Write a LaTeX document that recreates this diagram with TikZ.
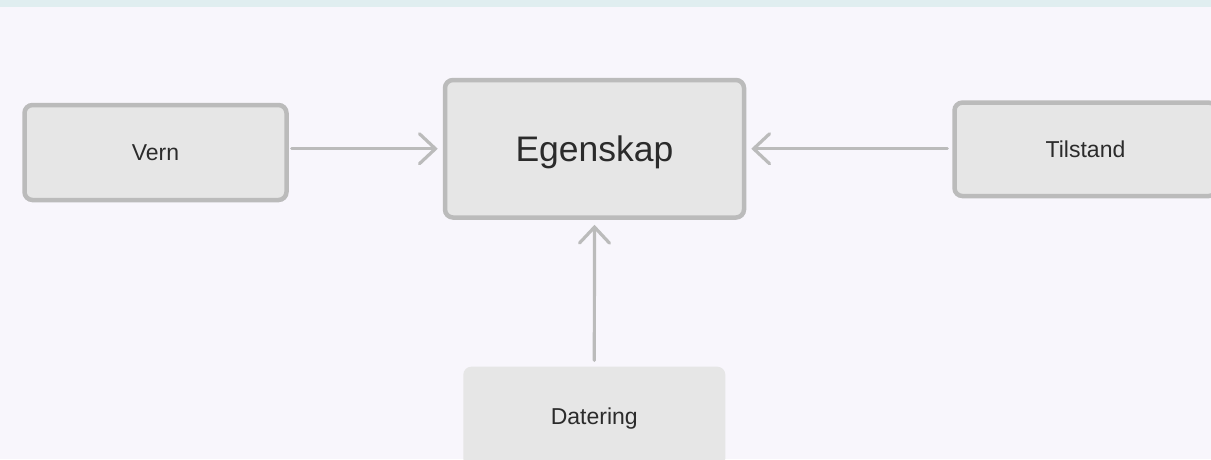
\documentclass[tikz,border=0pt]{standalone}
\usepackage{fontspec}
\setmainfont{Liberation Sans}
\usetikzlibrary{arrows.meta}
\definecolor{bgcol}{HTML}{F8F6FC}
\definecolor{bandcol}{HTML}{E0EEF0}
\definecolor{boxfill}{HTML}{E6E6E6}
\definecolor{boxline}{HTML}{BBBBBB}
\definecolor{txtcol}{HTML}{2B2B2B}
\tikzset{
  box/.style={rectangle, rounded corners=8pt, fill=boxfill, draw=boxline, line width=4.5pt,
    text=txtcol, font=\fontsize{23}{27}\selectfont, inner sep=0pt,
    text height=16.5pt, text depth=0pt},
  bigbox/.style={box, font=\fontsize{35.5}{40}\selectfont, text height=25.4pt},
  plainbox/.style={box, draw=none},
  conn/.style={draw=boxline, line width=3.2pt, line cap=round,
    -{Straight Barb[length=16pt,width=30pt,line width=3.2pt,line cap=round]}}
}
\begin{document}
\begin{tikzpicture}[x=1pt,y=-1pt]
\clip (0,0) rectangle (1211,459);
\fill[bgcol] (0,0) rectangle (1211,459);
\fill[bandcol] (0,0) rectangle (1211,7);
\node[box, minimum width=262pt, minimum height=95pt] (vern) at (155.5,152.5) {Vern};
\node[bigbox, minimum width=299pt, minimum height=137.5pt] (eg) at (594.5,148.75) {Egenskap};
\node[box, minimum width=262pt, minimum height=93.5pt] (til) at (1085.5,149.3) {Tilstand};
\node[plainbox, minimum width=262pt, minimum height=100pt] (dat) at (594.3,416.7) {Datering};
\draw[conn, shorten <=3pt, shorten >=5pt] (vern.east |- eg.west) -- (eg.west);
\draw[conn, shorten <=5pt, shorten >=5pt] (til.west |- eg.east) -- (eg.east);
\draw[conn, shorten <=4pt, shorten >=5pt] (dat.north) -- (eg.south);
\end{tikzpicture}
\end{document}
